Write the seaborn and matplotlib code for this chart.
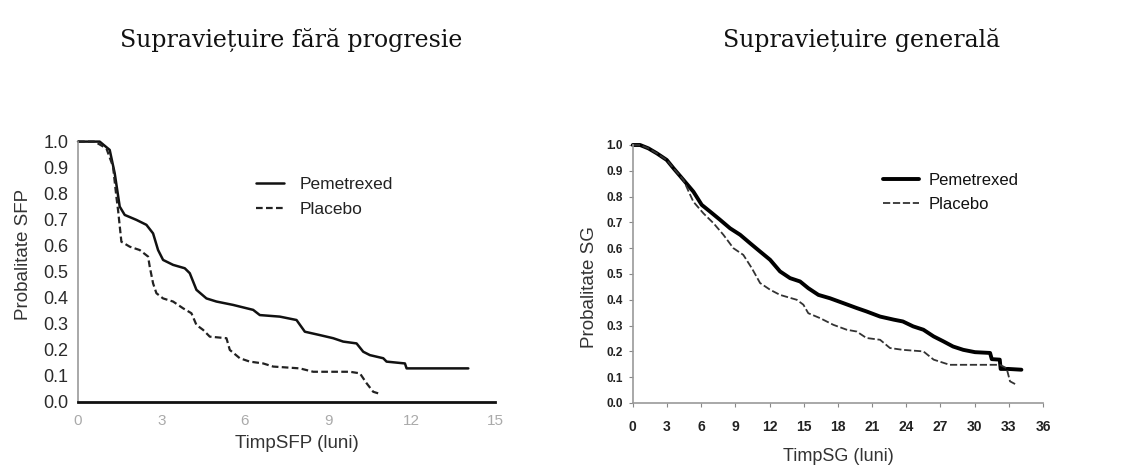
import matplotlib
matplotlib.use("Agg")
from matplotlib import pyplot as plt
import pandas as pd
import seaborn as sns

# Supravietuire fara progresie (luni, probabilitate)
sfp_pem_t = [0, 0.78, 1.14, 1.32, 1.5, 1.68, 2.1, 2.46, 2.7, 2.88, 3.06, 3.42, 3.84, 4.02,
             4.26, 4.62, 4.98, 5.58, 6.3, 6.54, 7.26, 7.86, 8.16, 8.7, 9.18, 9.54, 10.02,
             10.26, 10.5, 10.98, 11.1, 11.76, 11.82, 14.04]
sfp_pem_p = [1.0, 1.0, 0.968, 0.878, 0.75, 0.718, 0.699, 0.68, 0.647, 0.583, 0.545, 0.526,
             0.513, 0.494, 0.43, 0.397, 0.385, 0.372, 0.353, 0.333, 0.327, 0.314, 0.269,
             0.256, 0.244, 0.231, 0.224, 0.192, 0.179, 0.167, 0.154, 0.147, 0.128, 0.128]
sfp_pla_t = [0, 0.6, 1.02, 1.26, 1.38, 1.44, 1.56, 1.86, 2.22, 2.52, 2.58, 2.7, 2.82, 3.06,
             3.42, 3.78, 4.08, 4.26, 4.5, 4.74, 5.34, 5.46, 5.82, 6.18, 6.66, 7.02, 7.98,
             8.46, 9.78, 10.14, 10.38, 10.62, 10.8]
sfp_pla_p = [1.0, 1.0, 0.974, 0.904, 0.788, 0.737, 0.615, 0.596, 0.583, 0.558, 0.519, 0.455,
             0.417, 0.397, 0.385, 0.359, 0.34, 0.295, 0.276, 0.25, 0.244, 0.199, 0.167,
             0.154, 0.147, 0.135, 0.128, 0.115, 0.115, 0.109, 0.071, 0.038, 0.032]

# Supravietuire generala
sg_pem_t = [0, 0.64, 1.37, 2.1, 2.98, 3.57, 4.44, 5.32, 6.05, 6.78, 7.66, 8.54, 9.42, 10.3,
            11.17, 12.05, 12.92, 13.8, 14.68, 15.4, 16.29, 17.3, 18.48, 19.65, 20.5, 21.7,
            22.9, 23.7, 24.6, 25.5, 26.4, 27.25, 28.1, 29.0, 30.03, 31.35, 31.5, 32.2,
            32.28, 32.95, 34.1]
sg_pem_p = [1.0, 1.0, 0.987, 0.968, 0.942, 0.91, 0.865, 0.819, 0.768, 0.742, 0.71, 0.677,
            0.652, 0.619, 0.587, 0.555, 0.51, 0.484, 0.471, 0.445, 0.419, 0.406, 0.387,
            0.368, 0.355, 0.335, 0.323, 0.316, 0.297, 0.284, 0.258, 0.239, 0.219, 0.206,
            0.197, 0.194, 0.17, 0.168, 0.132, 0.132, 0.129]
sg_pla_t = [0, 0.64, 1.37, 2.1, 2.98, 3.57, 4.44, 4.9, 5.32, 6.2, 7.08, 7.95, 8.83, 9.7,
            10.44, 11.17, 12.05, 12.92, 14.39, 14.97, 15.4, 16.43, 17.6, 18.77, 19.65,
            20.5, 21.7, 22.57, 23.7, 25.5, 26.4, 27.8, 32.2, 32.8, 33.1, 33.65]
sg_pla_p = [1.0, 1.0, 0.987, 0.968, 0.942, 0.91, 0.865, 0.82, 0.78, 0.735, 0.697, 0.652,
            0.6, 0.574, 0.523, 0.465, 0.439, 0.419, 0.4, 0.381, 0.348, 0.329, 0.303, 0.284,
            0.277, 0.252, 0.245, 0.213, 0.206, 0.2, 0.168, 0.148, 0.148, 0.135, 0.084, 0.071]

sfp_xticks = [0, 3, 6, 9, 12, 15]
sg_xticks = list(range(0, 37, 3))
yticks = [i / 10 for i in range(11)]

sns.set_style("white")
plt.rcParams["font.family"] = ["Liberation Sans", "DejaVu Sans"]
narrow = ["Liberation Sans Narrow", "Liberation Sans", "DejaVu Sans"]
serif = ["DejaVu Serif", "Liberation Serif"]

fig = plt.figure(figsize=(11.34, 4.72), dpi=100)
ax1 = fig.add_axes([0.0688, 0.149, 0.3677, 0.551])
ax2 = fig.add_axes([0.558, 0.1462, 0.3618, 0.5466])

# left panel
sns.lineplot(x=sfp_pem_t, y=sfp_pem_p, ax=ax1, color="#111111", lw=1.8,
             sort=False, estimator=None, label="Pemetrexed", clip_on=False)
sns.lineplot(x=sfp_pla_t, y=sfp_pla_p, ax=ax1, color="#222222", lw=1.6,
             linestyle=(0, (3, 1.5)), sort=False, estimator=None, label="Placebo",
             clip_on=False)
ax1.set_xlim(0, 15)
ax1.set_ylim(0, 1)
ax1.set_xticks(sfp_xticks)
ax1.set_yticks(yticks)
ax1.set_yticklabels([f"{v:.1f}" for v in yticks], fontsize=13, color="#2a2a2a")
ax1.set_xticklabels(sfp_xticks, fontsize=11, color="#aaaaaa")
ax1.tick_params(axis="y", length=0, pad=7)
ax1.tick_params(axis="x", length=0, pad=9)
ax1.set_xlabel("TimpSFP (luni)", fontsize=13.5, color="#333333")
ax1.set_ylabel("Probalitate SFP", fontsize=13.5, color="#333333")
ax1.xaxis.set_label_coords(0.525, -0.128)
ax1.yaxis.set_label_coords(-0.111, 0.568)
for s in ["top", "right"]:
    ax1.spines[s].set_visible(False)
ax1.spines["bottom"].set_color("#111111")
ax1.spines["bottom"].set_linewidth(2)
ax1.spines["left"].set_color("#999999")
ax1.spines["left"].set_linewidth(1.2)
ax1.legend(loc="upper left", bbox_to_anchor=(0.39, 0.925), frameon=False,
           fontsize=12.5, handlelength=1.6, handletextpad=0.9, labelspacing=0.6,
           labelcolor="#222222")

# right panel
sns.lineplot(x=sg_pem_t, y=sg_pem_p, ax=ax2, color="#000000", lw=2.8,
             sort=False, estimator=None, label="Pemetrexed", clip_on=False)
sns.lineplot(x=sg_pla_t, y=sg_pla_p, ax=ax2, color="#333333", lw=1.3,
             linestyle=(0, (4, 1.5)), sort=False, estimator=None, label="Placebo",
             clip_on=False)
ax2.set_xlim(0, 36)
ax2.set_ylim(0, 1)
ax2.set_xticks(sg_xticks)
ax2.set_yticks(yticks)
ax2.set_yticklabels([f"{v:.1f}" for v in yticks], fontsize=8.5, fontweight="bold",
                    color="#222222", family=narrow)
ax2.set_xticklabels(sg_xticks, fontsize=10, fontweight="bold", color="#222222",
                    family=narrow)
ax2.tick_params(length=3, width=0.8, color="#888888", left=True, bottom=True)
ax2.tick_params(axis="x", pad=9)
ax2.tick_params(axis="y", pad=4)
ax2.set_xlabel("TimpSG (luni)", fontsize=13, color="#333333", labelpad=10)
ax2.set_ylabel("Probalitate SG", fontsize=13.5, color="#333333")
ax2.yaxis.set_label_coords(-0.085, 0.45)
for s in ["top", "right"]:
    ax2.spines[s].set_visible(False)
for s in ["bottom", "left"]:
    ax2.spines[s].set_color("#999999")
    ax2.spines[s].set_linewidth(1.2)
ax2.legend(loc="upper left", bbox_to_anchor=(0.573, 0.95), frameon=False,
           fontsize=12, handlelength=2.15, handletextpad=0.6, labelspacing=0.55,
           labelcolor="#111111")

fig.text(0.2566, 0.915, "Supraviețuire fără progresie", ha="center", va="center",
         fontsize=17, family=serif, color="#111111")
fig.text(0.760, 0.915, "Supraviețuire generală", ha="center", va="center",
         fontsize=17, family=serif, color="#111111")

fig.savefig("out.png", dpi=100, facecolor="white")
